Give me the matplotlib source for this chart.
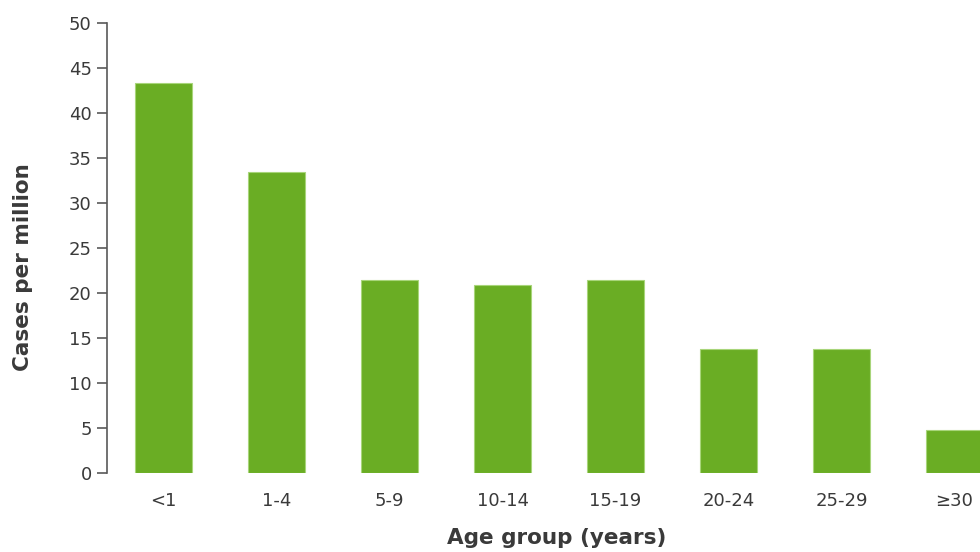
import matplotlib
matplotlib.use("Agg")
import matplotlib.pyplot as plt

plt.rcParams["font.family"] = ["DejaVu Sans"]

age_groups = ['<1', '1-4', '5-9', '10-14', '15-19', '20-24', '25-29', '≥30']
cases_per_million = [43.3, 33.4, 21.5, 20.9, 21.4, 13.8, 13.8, 4.8]

text_color = '#3a3a3a'
bar_color = '#6aad24'

fig = plt.figure(figsize=(9.8, 5.52), dpi=100)
# axes runs past the right edge so the last bar is cut, as in the source
ax = fig.add_axes([107 / 980, 79 / 552, 904 / 980, 450 / 552])

x = range(len(age_groups))
ax.bar(x, cases_per_million, width=0.5, color=bar_color,
       edgecolor='#a8d57a', linewidth=0.8)

ax.set_xlim(-0.5, len(age_groups) - 0.5)
ax.set_ylim(0, 50)
ax.set_yticks(range(0, 51, 5))
ax.set_xticks(list(x))
ax.set_xticklabels(age_groups)

for s in ['top', 'right', 'bottom']:
    ax.spines[s].set_visible(False)
ax.spines['left'].set_color('#595959')
ax.spines['left'].set_linewidth(1.2)

ax.tick_params(axis='y', length=7, width=1.2, color='#595959',
               labelsize=13, labelcolor=text_color, pad=4)
ax.tick_params(axis='x', length=0, labelsize=13, labelcolor=text_color, pad=14)

fig.text(23 / 980, 1 - 267 / 552, 'Cases per million', fontsize=15.5,
         fontweight='bold', color=text_color, ha='center', va='center',
         rotation=90)
fig.text(557 / 980, 1 - 538 / 552, 'Age group (years)', fontsize=15.5,
         fontweight='bold', color=text_color, ha='center', va='center')

fig.savefig('out.png', dpi=100)
